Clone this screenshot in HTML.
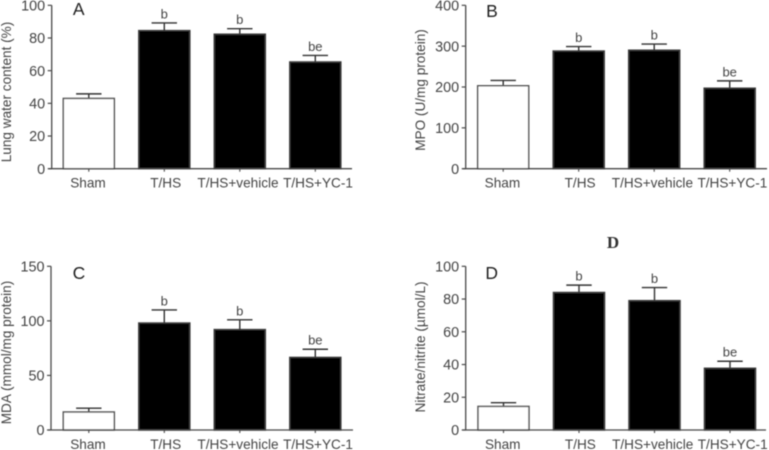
<!DOCTYPE html>
<html lang="en">
<head>
<meta charset="utf-8">
<title>Four-panel bar chart</title>
<style>
html,body{margin:0;padding:0;background:#fff;width:769px;height:450px;overflow:hidden}
svg{display:block;font-family:"Liberation Sans",sans-serif}
</style>
</head>
<body>
<svg id="chart" xmlns="http://www.w3.org/2000/svg" width="769" height="450" viewBox="0 0 769 450">
<defs><filter id="soft" x="-2%" y="-2%" width="104%" height="104%"><feGaussianBlur stdDeviation="0.45"/></filter></defs>
<g id="root" filter="url(#soft)"></g>
</svg>
<script>
const categories = ["Sham", "T/HS", "T/HS+vehicle", "T/HS+YC-1"];
const significance = ["", "b", "b", "be"];

const panelNames = ["A", "B", "C", "D"];
const yTitles = ["Lung water content (%)", "MPO (U/mg protein)", "MDA (mmol/mg protein)", "Nitrate/nitrite (µmol/L)"];

const ticksA = [0, 20, 40, 60, 80, 100];
const ticksB = [0, 100, 200, 300, 400];
const ticksC = [0, 50, 100, 150];
const ticksD = [0, 20, 40, 60, 80, 100];

const meansA = [43, 84.5, 82.3, 65.3];
const meansB = [203, 288, 290, 197];
const meansC = [16.5, 98, 92, 66.5];
const meansD = [14.4, 84, 79, 37.7];

const errorsA = [2.8, 4.7, 3.4, 4];
const errorsB = [13, 11, 15, 18];
const errorsC = [3.5, 12, 9, 7.5];
const errorsD = [2.3, 4.5, 8, 4.3];

const panels = [
  {ticks: ticksA, means: meansA, errors: errorsA, left: 51.7, right: 352, top: 5.3, bottom: 168.7, firstBar: 63.3, letterX: 78.7, letterY: 15, titleX: 11, titleY: 92},
  {ticks: ticksB, means: meansB, errors: errorsB, left: 465.7, right: 767, top: 5.3, bottom: 168.7, firstBar: 477.7, letterX: 492, letterY: 17, titleX: 425, titleY: 90},
  {ticks: ticksC, means: meansC, errors: errorsC, left: 51, right: 353, top: 266.3, bottom: 430, firstBar: 63.3, letterX: 79, letterY: 279, titleX: 11, titleY: 352.5},
  {ticks: ticksD, means: meansD, errors: errorsD, left: 465.7, right: 766, top: 266.3, bottom: 430, firstBar: 478, letterX: 491.7, letterY: 279, titleX: 425, titleY: 347}
];

const NS = "http://www.w3.org/2000/svg";
const root = document.getElementById("root");
const INK = "#4a4a4a";
const BAR_W = 51;
const BAR_STEP = 75.5;
const labelNudge = [-0.8, 1.4, -1.8, 2.7];

function make(tag, attrs, parent, content) {
  const el = document.createElementNS(NS, tag);
  for (const k in attrs) el.setAttribute(k, attrs[k]);
  if (content !== undefined) el.textContent = content;
  parent.appendChild(el);
  return el;
}
function scaleY(p, v) {
  const max = p.ticks[p.ticks.length - 1];
  return p.bottom - (v / max) * (p.bottom - p.top);
}
function barLeft(p, i) {
  return p.firstBar + i * BAR_STEP;
}

panels.forEach(function (p, pi) {
  const panelKey = panelNames[pi].toLowerCase();
  const g = make("g", {}, root);
  
  

  p.means.forEach(function (v, i) {
    const x = barLeft(p, i);
    const cx = x + BAR_W / 2;
    const y = scaleY(p, v);
    const topY = scaleY(p, v + p.errors[i]);

    const stem = make("line", {x1: cx, x2: cx, y1: y, y2: topY, stroke: "#333", "stroke-width": 1.4}, g);
    
    

    const cap = make("line", {x1: cx - 12.7, x2: cx + 12.7, y1: topY, y2: topY, stroke: "#333", "stroke-width": 1.4}, g);
    
    

    const bar = make("rect", {x: x, y: y, width: BAR_W, height: p.bottom - y, fill: i === 0 ? "#fff" : "#000", stroke: i === 0 ? "#555" : "#3a3a3a", "stroke-width": 1.5}, g);
    
    

    if (significance[i]) {
      const sig = make("text", {x: cx, y: topY - 4.5, "text-anchor": "middle", "font-size": 13, fill: "#444"}, g, significance[i]);
      
      
    }

    const tickX = make("line", {x1: cx, x2: cx, y1: p.bottom, y2: p.bottom + 3, stroke: INK, "stroke-width": 1.1}, g);
    
    

    const cat = make("text", {x: cx + labelNudge[i], y: p.bottom + 19, "text-anchor": "middle", "font-size": 13.6, fill: "#444"}, g, categories[i]);
    
    
  });

  const yAxis = make("line", {x1: p.left, x2: p.left, y1: p.top, y2: p.bottom, stroke: INK, "stroke-width": 1.3}, g);
  
  

  const xAxis = make("line", {x1: p.left - 3, x2: p.right, y1: p.bottom, y2: p.bottom, stroke: INK, "stroke-width": 1.3}, g);
  
  

  p.ticks.forEach(function (t) {
    const y = scaleY(p, t);
    const tick = make("line", {x1: p.left - 4, x2: p.left, y1: y, y2: y, stroke: INK, "stroke-width": 1.2}, g);
    
    

    const lab = make("text", {x: p.left - 6.5, y: y + 5.2, "text-anchor": "end", "font-size": 14.4, fill: "#444"}, g, String(t));
    
    
  });

  const title = make("text", {x: 0, y: 0, transform: "translate(" + p.titleX + "," + p.titleY + ") rotate(-90)", "text-anchor": "middle", "font-size": 13.6, fill: "#444"}, g, yTitles[pi]);
  
  

  const letter = make("text", {x: p.letterX, y: p.letterY, "text-anchor": "middle", "font-size": 17.5, fill: "#222"}, g, panelNames[pi]);
  
  
});

const stray = make("text", {x: 613, y: 248, "text-anchor": "middle", "font-size": 17, "font-weight": "bold", "font-family": "\"Liberation Serif\", serif", fill: "#333"}, root, "D");


</script>
</body>
</html>
